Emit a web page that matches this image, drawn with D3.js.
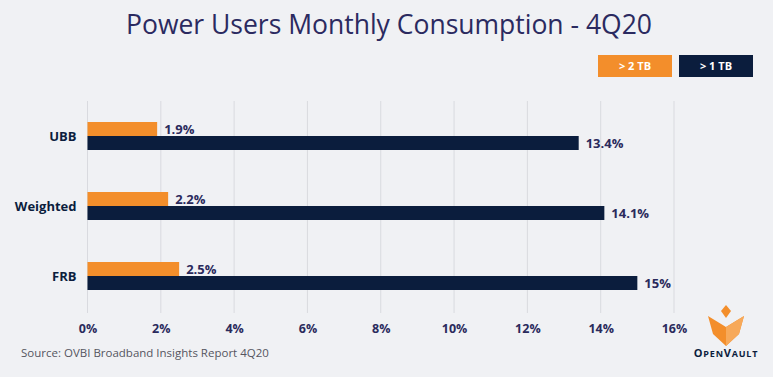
<!DOCTYPE html>
<html>
<head>
<meta charset="utf-8">
<script src="https://cdn.jsdelivr.net/npm/d3@7"></script>
<style>
  body { margin: 0; background: #f0f1f4; }
  svg { display: block; font-family: "Open Sans", "Noto Sans", sans-serif; }
  .tick text { font-weight: 700; fill: #2a2a5c; font-size: 12.5px; }
</style>
</head>
<body>
<div id="chart"></div>
<script>
// Data
var categories = ["UBB", "Weighted", "FRB"],
    over2TB = [1.9, 2.2, 2.5],
    over1TB = [13.4, 14.1, 15],
    seriesNames = ["> 2 TB", "> 1 TB"],
    xTicks = [0, 2, 4, 6, 8, 10, 12, 14, 16];

var basewidth = 773,
    baseheight = 377,
    margin = { top: 101, right: 100, bottom: 64, left: 87.5 },
    width = 674 - margin.left,
    height = baseheight - margin.top - margin.bottom;

var navy = "#0b1d3d",
    orange = "#f38e2b",
    ink = "#2a2a5c";

var svg = d3.select("#chart").append("svg")
    .attr("width", basewidth)
    .attr("height", baseheight);

svg.append("rect")
    .attr("width", basewidth)
    .attr("height", baseheight)
    .attr("fill", "#f0f1f4");

// Title
svg.append("text")
    .attr("x", 389)
    .attr("y", 34)
    .attr("text-anchor", "middle")
    .attr("fill", "#2b2a60")
    .style("font-size", "26.5px")
    .style("font-weight", 400)
    .text("Power Users Monthly Consumption - 4Q20");

// Legend boxes
var legend = svg.selectAll(".legend")
    .data(seriesNames)
    .enter().append("g")
    .attr("class", "legend")
    .attr("transform", function (d, i) { return "translate(" + (598 + i * 81) + ",55)"; });

legend.append("rect")
    .attr("width", 74)
    .attr("height", 22)
    .attr("fill", function (d, i) { return i == 0 ? orange : navy; });

legend.append("text")
    .attr("x", 37)
    .attr("y", 15)
    .attr("text-anchor", "middle")
    .attr("fill", "#fff")
    .style("font-size", "11px")
    .style("font-weight", 700)
    .text(function (d) { return d; });

var g = svg.append("g")
    .attr("transform", "translate(" + margin.left + "," + margin.top + ")");

var xScale = d3.scaleLinear().domain([0, 16]).range([0, width]);
var yScale = d3.scaleBand().domain(categories).range([21, 21 + 210]).padding(0);

// Gridlines
g.selectAll(".grid")
    .data(xTicks)
    .enter().append("line")
    .attr("class", "grid")
    .attr("x1", xScale).attr("x2", xScale)
    .attr("y1", 0).attr("y2", 212)
    .attr("stroke", "#d9dadf")
    .attr("stroke-width", 1);

// x axis
var xAxis = d3.axisBottom(xScale)
    .tickValues(xTicks)
    .tickSize(0)
    .tickPadding(0)
    .tickFormat(function (d) { return d + "%"; });

var xg = g.append("g")
    .attr("transform", "translate(0,228)")
    .call(xAxis);
xg.select(".domain").remove();
xg.selectAll(".tick text").attr("dy", "0.35em").attr("y", 0).style("font-family", "Open Sans, sans-serif");

var barH = 14;

// Orange bars (> 2 TB)
g.selectAll(".bar2")
    .data(over2TB)
    .enter().append("rect")
    .attr("class", "bar2")
    .attr("x", 0)
    .attr("y", function (d, i) { return yScale(categories[i]); })
    .attr("width", function (d) { return xScale(d); })
    .attr("height", barH)
    .attr("fill", orange);

// Navy bars (> 1 TB)
g.selectAll(".bar1")
    .data(over1TB)
    .enter().append("rect")
    .attr("class", "bar1")
    .attr("x", 0)
    .attr("y", function (d, i) { return yScale(categories[i]) + barH; })
    .attr("width", function (d) { return xScale(d); })
    .attr("height", barH)
    .attr("fill", navy);

// Value labels
function addLabels(values, offset) {
    g.selectAll(null)
        .data(values)
        .enter().append("text")
        .attr("x", function (d) { return xScale(d) + 7; })
        .attr("y", function (d, i) { return yScale(categories[i]) + offset + barH / 2; })
        .attr("dy", "0.35em")
        .attr("fill", ink)
        .style("font-size", "13px")
        .style("font-weight", 700)
        .text(function (d) { return d + "%"; });
}
addLabels(over2TB, 0);
addLabels(over1TB, barH);

// Category labels
g.selectAll(".cat")
    .data(categories)
    .enter().append("text")
    .attr("class", "cat")
    .attr("x", -11)
    .attr("y", function (d) { return yScale(d) + barH; })
    .attr("dy", "0.35em")
    .attr("text-anchor", "end")
    .attr("fill", navy)
    .style("font-size", "13px")
    .style("font-weight", 700)
    .text(function (d) { return d; });

// Source
svg.append("text")
    .attr("x", 21)
    .attr("y", 357)
    .attr("fill", "#55555f")
    .style("font-size", "11.5px")
    .text("Source: OVBI Broadband Insights Report 4Q20");

// Logo
var logo = svg.append("g").attr("transform", "translate(726,0)");
logo.append("path")
    .attr("d", "M-5,311 L0,305 L5,311 L0,318 Z")
    .attr("fill", orange);
logo.append("path")
    .attr("d", "M-18,316 L0,327 L18,316 L13,334 L0,346 L-13,334 Z")
    .attr("fill", orange);
logo.append("path")
    .attr("d", "M0,327 L18,316 L13,334 L0,346 Z")
    .attr("fill", "#f7a95a");
var logoText = logo.append("text")
    .attr("x", 0)
    .attr("y", 357)
    .attr("text-anchor", "middle")
    .attr("fill", navy)
    .style("font-weight", 700)
    .style("letter-spacing", "0.8px");
["O", "PEN", "V", "AULT"].forEach(function (s, i) {
    logoText.append("tspan")
        .style("font-size", i % 2 == 0 ? "11px" : "9px")
        .text(s);
});
</script>
</body>
</html>
